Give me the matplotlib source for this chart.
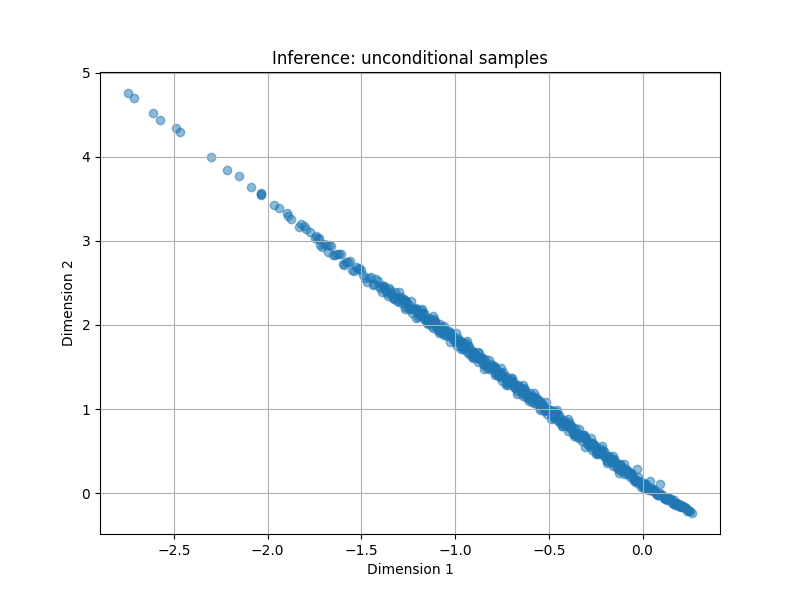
import matplotlib
matplotlib.use("Agg")
import matplotlib.pyplot as plt

# sparse upper-left tail of the samples
tail_x = [-2.744, -2.712, -2.610, -2.573, -2.488, -2.470, -2.301, -2.218, -2.152, -2.088,
          -2.036, -2.036, -2.035, -1.967, -1.942, -1.899, -1.891, -1.878, -1.823, -1.807,
          -1.832, -1.796, -1.775, -1.748, -1.727]
tail_y = [4.758, 4.700, 4.520, 4.437, 4.345, 4.294, 3.996, 3.842, 3.770, 3.643,
          3.568, 3.560, 3.548, 3.429, 3.385, 3.330, 3.301, 3.262, 3.202, 3.182,
          3.163, 3.139, 3.104, 3.032, 3.039]

# dense band, read in several passes along the diagonal
band_a_x = [-1.74, -1.72, -1.70, -1.68, -1.66, -1.64, -1.62, -1.60, -1.58, -1.56,
            -1.54, -1.52, -1.50, -1.48, -1.46, -1.44, -1.42, -1.40, -1.38, -1.36,
            -1.34, -1.32, -1.30, -1.28, -1.26, -1.24, -1.22, -1.20, -1.18, -1.16,
            -1.14, -1.12, -1.10, -1.08, -1.06, -1.04, -1.02, -1.00, -0.98, -0.96,
            -0.94, -0.92, -0.90, -0.88, -0.86, -0.84, -0.82, -0.80, -0.78, -0.76,
            -0.74, -0.72, -0.70, -0.68, -0.66, -0.64, -0.62, -0.60, -0.58, -0.56,
            -0.54, -0.52, -0.50, -0.48, -0.46, -0.44, -0.42, -0.40, -0.38, -0.36,
            -0.34, -0.32, -0.30, -0.28, -0.26, -0.24, -0.22, -0.20, -0.18, -0.16,
            -0.14, -0.12, -0.10, -0.08, -0.06, -0.04, -0.02, 0.00, 0.02, 0.04,
            0.06, 0.08, 0.10, 0.12, 0.14, 0.16, 0.18, 0.20, 0.22, 0.24, 0.263]
band_a_y = [3.053, 2.950, 2.957, 2.864, 2.941, 2.828, 2.844, 2.721, 2.748, 2.765,
            2.641, 2.668, 2.655, 2.554, 2.563, 2.473, 2.552, 2.441, 2.460, 2.339,
            2.369, 2.388, 2.267, 2.296, 2.285, 2.184, 2.192, 2.100, 2.178, 2.066,
            2.084, 1.962, 1.990, 2.008, 1.886, 1.914, 1.902, 1.800, 1.805, 1.710,
            1.784, 1.669, 1.684, 1.559, 1.584, 1.598, 1.473, 1.498, 1.483, 1.378,
            1.384, 1.291, 1.368, 1.255, 1.272, 1.150, 1.177, 1.194, 1.071, 1.098,
            1.086, 0.983, 0.990, 0.894, 0.968, 0.852, 0.866, 0.740, 0.764, 0.778,
            0.652, 0.676, 0.660, 0.554, 0.558, 0.463, 0.528, 0.424, 0.440, 0.325,
            0.341, 0.346, 0.232, 0.258, 0.233, 0.149, 0.144, 0.070, 0.104, 0.038,
            0.042, -0.024, -0.020, -0.069, -0.063, -0.112, -0.116, -0.160, -0.163, -0.202, -0.236]

band_b_x = [-1.73, -1.71, -1.69, -1.67, -1.65, -1.63, -1.61, -1.59, -1.57,
            -1.55, -1.53, -1.51, -1.49, -1.47, -1.45, -1.43, -1.41, -1.39, -1.37,
            -1.35, -1.33, -1.31, -1.29, -1.27, -1.25, -1.23, -1.21, -1.19, -1.17,
            -1.15, -1.13, -1.11, -1.09, -1.07, -1.05, -1.03, -1.01, -0.99, -0.97,
            -0.95, -0.93, -0.91, -0.89, -0.87, -0.85, -0.83, -0.81, -0.79, -0.77,
            -0.75, -0.73, -0.71, -0.69, -0.67, -0.65, -0.63, -0.61, -0.59, -0.57,
            -0.55, -0.53, -0.51, -0.49, -0.47, -0.45, -0.43, -0.41, -0.39, -0.37,
            -0.35, -0.33, -0.31, -0.29, -0.27, -0.25, -0.23, -0.21, -0.19, -0.17,
            -0.15, -0.13, -0.11, -0.09, -0.07, -0.05, -0.03, -0.01, 0.01, 0.03,
            0.05, 0.07, 0.09, 0.11, 0.13, 0.15, 0.17, 0.19, 0.21, 0.23, 0.25]
band_b_y = [3.027, 2.924, 2.951, 2.948, 2.835, 2.841, 2.838, 2.715, 2.752,
            2.658, 2.684, 2.682, 2.590, 2.509, 2.568, 2.488, 2.517, 2.396, 2.425,
            2.444, 2.324, 2.283, 2.312, 2.311, 2.220, 2.138, 2.196, 2.114, 2.142,
            2.020, 2.048, 2.066, 1.944, 1.902, 1.930, 1.928, 1.836, 1.753, 1.808,
            1.722, 1.747, 1.622, 1.647, 1.662, 1.536, 1.491, 1.516, 1.511, 1.416,
            1.331, 1.388, 1.305, 1.332, 1.209, 1.236, 1.254, 1.131, 1.088, 1.115,
            1.112, 1.020, 0.937, 0.992, 0.906, 0.930, 0.804, 0.828, 0.842, 0.716,
            0.670, 0.694, 0.688, 0.592, 0.516, 0.561, 0.476, 0.501, 0.387, 0.403,
            0.398, 0.294, 0.259, 0.275, 0.251, 0.176, 0.122, 0.137, 0.067, 0.071,
            0.055, -0.001, -0.027, -0.032, -0.076, -0.080, -0.124, -0.133, -0.167, -0.180, -0.214]

band_c_x = [-1.404, -1.384, -1.364, -1.344, -1.324, -1.304, -1.284, -1.264, -1.244, -1.224,
            -1.204, -1.184, -1.164, -1.144, -1.124, -1.104, -1.084, -1.064, -1.044, -1.024,
            -1.004, -0.984, -0.964, -0.944, -0.924, -0.904, -0.884, -0.864, -0.844, -0.824,
            -0.804, -0.784, -0.764, -0.744, -0.724, -0.704, -0.684, -0.664, -0.644, -0.624,
            -0.604, -0.584, -0.564, -0.544, -0.524, -0.504, -0.484, -0.464, -0.444, -0.424,
            -0.404, -0.384, -0.364, -0.344, -0.324, -0.304, -0.284, -0.264, -0.244, -0.224,
            -0.204, -0.184, -0.164, -0.144, -0.124, -0.104, -0.084, -0.064, -0.044, -0.024,
            -0.004, 0.016, 0.036, 0.056, 0.076, 0.096, 0.116, 0.136, 0.156, 0.176,
            0.196, 0.216, 0.236]
band_c_y = [2.461, 2.460, 2.379, 2.384, 2.303, 2.332, 2.266, 2.285, 2.184, 2.187,
            2.150, 2.148, 2.066, 2.069, 1.987, 2.015, 1.948, 1.966, 1.864, 1.867,
            1.830, 1.825, 1.740, 1.739, 1.654, 1.679, 1.609, 1.624, 1.518, 1.518,
            1.478, 1.473, 1.388, 1.389, 1.306, 1.333, 1.265, 1.282, 1.180, 1.182,
            1.144, 1.141, 1.058, 1.061, 0.978, 1.005, 0.934, 0.948, 0.842, 0.841,
            0.800, 0.794, 0.708, 0.707, 0.621, 0.645, 0.574, 0.588, 0.483, 0.483,
            0.444, 0.440, 0.355, 0.356, 0.271, 0.297, 0.228, 0.243, 0.139, 0.139,
            0.100, 0.089, 0.038, 0.030, -0.022, -0.018, -0.059, -0.058, -0.117, -0.123,
            -0.150, -0.158, -0.207]

band_d_x = [-1.386, -1.366, -1.346, -1.326, -1.306, -1.286, -1.266, -1.246, -1.226, -1.206,
            -1.186, -1.166, -1.146, -1.126, -1.106, -1.086, -1.066, -1.046, -1.026, -1.006,
            -0.986, -0.966, -0.946, -0.926, -0.906, -0.886, -0.866, -0.846, -0.826, -0.806,
            -0.786, -0.766, -0.746, -0.726, -0.706, -0.686, -0.666, -0.646, -0.626, -0.606,
            -0.586, -0.566, -0.546, -0.526, -0.506, -0.486, -0.466, -0.446, -0.426, -0.406,
            -0.386, -0.366, -0.346, -0.326, -0.306, -0.286, -0.266, -0.246, -0.226, -0.206,
            -0.186, -0.166, -0.146, -0.126, -0.106, -0.086, -0.066, -0.046, -0.026, -0.006,
            0.014, 0.034, 0.054, 0.074, 0.094, 0.114, 0.134, 0.154, 0.174, 0.194,
            0.214, 0.234, 0.254]
band_d_y = [2.466, 2.400, 2.419, 2.324, 2.323, 2.337, 2.216, 2.240, 2.193, 2.186,
            2.119, 2.137, 2.040, 2.038, 2.051, 1.929, 1.952, 1.905, 1.898, 1.831,
            1.848, 1.748, 1.742, 1.752, 1.627, 1.647, 1.597, 1.586, 1.516, 1.531,
            1.431, 1.426, 1.436, 1.313, 1.335, 1.287, 1.279, 1.211, 1.229, 1.131,
            1.128, 1.140, 1.017, 1.040, 0.992, 0.982, 0.911, 0.925, 0.824, 0.818,
            0.827, 0.701, 0.720, 0.669, 0.658, 0.587, 0.601, 0.501, 0.496, 0.506,
            0.382, 0.403, 0.353, 0.344, 0.274, 0.290, 0.191, 0.186, 0.197, 0.072,
            0.092, 0.058, 0.045, 0.001, 0.001, -0.057, -0.066, -0.068, -0.136, -0.133,
            -0.165, -0.175, -0.217]

band_e_x = [-1.194, -1.174, -1.154, -1.134, -1.114, -1.094, -1.074, -1.054, -1.034, -1.014,
            -0.994, -0.974, -0.954, -0.934, -0.914, -0.894, -0.874, -0.854, -0.834, -0.814,
            -0.794, -0.774, -0.754, -0.734, -0.714, -0.694, -0.674, -0.654, -0.634, -0.614,
            -0.594, -0.574, -0.554, -0.534, -0.514, -0.494, -0.474, -0.454, -0.434, -0.414,
            -0.394, -0.374, -0.354, -0.334, -0.314, -0.294, -0.274, -0.254, -0.234, -0.214,
            -0.194, -0.174, -0.154, -0.134, -0.114, -0.094, -0.074, -0.054, -0.034, -0.014,
            0.006, 0.026, 0.046, 0.066, 0.086, 0.106, 0.126, 0.146, 0.166, 0.186,
            0.206]
band_e_y = [2.140, 2.138, 2.061, 2.054, 2.052, 1.950, 1.973, 1.921, 1.884, 1.882,
            1.805, 1.795, 1.790, 1.684, 1.704, 1.649, 1.609, 1.604, 1.523, 1.513,
            1.508, 1.403, 1.423, 1.369, 1.331, 1.328, 1.250, 1.242, 1.240, 1.137,
            1.159, 1.106, 1.068, 1.066, 0.988, 0.980, 0.974, 0.868, 0.887, 0.831,
            0.790, 0.784, 0.703, 0.692, 0.686, 0.580, 0.599, 0.543, 0.503, 0.498,
            0.419, 0.410, 0.405, 0.301, 0.321, 0.267, 0.228, 0.223, 0.144, 0.134,
            0.115, 0.054, 0.056, 0.019, -0.009, -0.020, -0.066, -0.078, -0.087, -0.146,
            -0.142]

# points on the outer edges of the band
band_f_x = [-1.297, -1.267, -1.237, -1.207, -1.177, -1.147, -1.117, -1.087, -1.057, -1.027,
            -0.997, -0.967, -0.937, -0.907, -0.877, -0.847, -0.817, -0.787, -0.757, -0.727,
            -0.697, -0.667, -0.637, -0.607, -0.577, -0.547, -0.517, -0.487, -0.457, -0.427,
            -0.397, -0.367, -0.337, -0.307, -0.277, -0.247, -0.217, -0.187, -0.157, -0.127,
            -0.097]
band_f_y = [2.387, 2.191, 2.279, 2.081, 2.193, 2.010, 2.102, 1.904, 1.991, 1.793,
            1.905, 1.718, 1.804, 1.602, 1.684, 1.481, 1.588, 1.401, 1.488, 1.288,
            1.373, 1.174, 1.285, 1.101, 1.191, 0.992, 1.078, 0.877, 0.983, 0.794,
            0.880, 0.676, 0.757, 0.553, 0.659, 0.471, 0.558, 0.357, 0.440, 0.239,
            0.347]

# a few points sitting above the band near x = 0
outlier_x = [-0.028, 0.041, 0.091]
outlier_y = [0.282, 0.146, 0.104]

samples_x = (tail_x + band_a_x + band_b_x + band_c_x + band_d_x + band_e_x
             + band_f_x + outlier_x)
samples_y = (tail_y + band_a_y + band_b_y + band_c_y + band_d_y + band_e_y
             + band_f_y + outlier_y)

fig, ax = plt.subplots(figsize=(8, 6), dpi=100)
ax.scatter(samples_x, samples_y, alpha=0.5)
ax.set_title('Inference: unconditional samples')
ax.set_xlabel('Dimension 1')
ax.set_ylabel('Dimension 2')
ax.grid(True)
fig.savefig('out.png')
